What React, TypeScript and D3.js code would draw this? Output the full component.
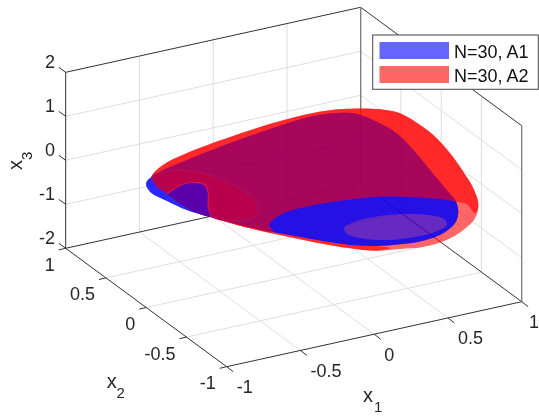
import React from "react";
import * as d3 from "d3";

type P = [number, number];

const x1Ticks = [-1, -0.5, 0, 0.5, 1];
const x2Ticks = [-1, -0.5, 0, 0.5, 1];
const x3Ticks = [-2, -1, 0, 1, 2];
const legendLabels = ["N=30, A1", "N=30, A2"];
const surfaceLevel = -0.5;

// Outlines as (x1, x2) at the level x3 = surfaceLevel
const a2Outline: P[] = [[-.512,.826],[-.37,.946],[-.159,1.034],[.179,1.118],[.502,1.177],[.782,1.193],[.967,1.159],[1.158,1.049],[1.234,.94],[1.254,.769],[1.253,.562],[1.211,.276],[1.149,-.001],[1.084,-.245],[.992,-.477],[.88,-.64],[.736,-.759],[.578,-.841],[.409,-.861],[.271,-.824],[.137,-.78],[.015,-.672],[-.119,-.504],[-.244,-.317],[-.365,-.126],[-.491,.14],[-.551,.32],[-.556,.542],[-.553,.709]];
const a1Outline: P[] = [[-.512,.826],[-.588,.757],[-.627,.637],[-.604,.472],[-.565,.294],[-.493,.136],[-.359,-.115],[-.232,-.295],[-.1,-.469],[.038,-.629],[.171,-.719],[.304,-.763],[.451,-.783],[.608,-.744],[.74,-.648],[.828,-.527],[.899,-.37],[.933,-.191],[.988,.117],[1.043,.424],[1.074,.689],[1.058,.867],[1.004,1.054],[.907,1.124],[.761,1.154],[.467,1.112],[.136,1.04],[-.209,.943],[-.405,.881]];
const a1Hole: P[] = [[.686,-.647],[.713,-.56],[.658,-.463],[.538,-.38],[.382,-.335],[.231,-.338],[.128,-.391],[.101,-.478],[.152,-.582],[.27,-.672],[.431,-.71],[.583,-.7]];
const a2Upper: P[] = [[-.512,.826],[-.37,.946],[-.159,1.034],[.179,1.118],[.502,1.177],[.782,1.193],[.967,1.159],[1.158,1.049],[1.234,.94],[1.254,.769],[1.253,.562],[1.211,.276],[1.149,-.001],[1.084,-.245],[.992,-.477],[.915,-.575],[.938,-.431],[.899,-.37],[.834,-.289],[.707,-.19],[.538,-.087],[.258,-.018],[.084,-.007],[-.085,-.026],[-.241,-.138],[-.267,-.237],[-.365,-.126],[-.491,.14],[-.551,.32],[-.556,.542],[-.553,.709]];
const a2Rim: P[] = [[-.491,.14],[-.365,-.126],[-.244,-.317],[-.119,-.504],[.015,-.672],[.137,-.78],[.226,-.783],[.171,-.719],[.038,-.629],[-.1,-.469],[-.232,-.295],[-.359,-.115]];
const crescent: P[] = [[-.512,.826],[-.393,.858],[-.299,.823],[-.206,.704],[-.145,.485],[-.129,.307],[-.168,.131],[-.236,.028],[-.323,-.008],[-.417,.027],[-.482,.135],[-.429,.275],[-.334,.449],[-.292,.566],[-.319,.62],[-.399,.641],[-.488,.601],[-.546,.565],[-.539,.673]];
const notch: P[] = [[-.546,.565],[-.488,.601],[-.399,.641],[-.319,.62],[-.292,.566],[-.334,.449],[-.429,.275],[-.482,.135],[-.551,.32],[-.555,.457]];
const notchEdge: P[] = [[-.546,.565],[-.488,.601],[-.399,.641],[-.319,.62],[-.292,.566],[-.334,.449],[-.429,.275],[-.482,.135]];

const BLUE = "#0000ff";
const RED = "#ff0000";
const INK = "#262626";

const ox = 226.7;
const oy = 366.7;
const x1X = d3.scaleLinear().domain([-1, 1]).range([0, 295]);
const x1Y = d3.scaleLinear().domain([-1, 1]).range([0, -65]);
const x2X = d3.scaleLinear().domain([-1, 1]).range([0, -161]);
const x2Y = d3.scaleLinear().domain([-1, 1]).range([0, -118.4]);
const x3Y = d3.scaleLinear().domain([-2, 2]).range([0, -176]);

const project = (a: number, b: number, c: number): P => [ox + x1X(a) + x2X(b), oy + x1Y(a) + x2Y(b) + x3Y(c)];
const onSurface = (p: P) => project(p[0], p[1], surfaceLevel);

const closed = d3.line<P>().x((p) => onSurface(p)[0]).y((p) => onSurface(p)[1]).curve(d3.curveCatmullRomClosed.alpha(0.5));
const open = d3.line<P>().x((p) => onSurface(p)[0]).y((p) => onSurface(p)[1]).curve(d3.curveCatmullRom.alpha(0.5));

const seg = (a: P, b: P) => `M${a[0]},${a[1]}L${b[0]},${b[1]}`;

const gridPath = [
  ...[-0.5, 0, 0.5].map((v) => seg(project(v, -1, -2), project(v, 1, -2))),
  ...[-0.5, 0, 0.5].map((v) => seg(project(-1, v, -2), project(1, v, -2))),
  ...[-0.5, 0, 0.5].map((v) => seg(project(v, 1, -2), project(v, 1, 2))),
  ...[-1, 0, 1].map((v) => seg(project(-1, 1, v), project(1, 1, v))),
  ...[-0.5, 0, 0.5].map((v) => seg(project(1, v, -2), project(1, v, 2))),
  ...[-1, 0, 1].map((v) => seg(project(1, -1, v), project(1, 1, v))),
].join("");

const boxPath = [
  seg(project(-1, 1, -2), project(-1, -1, -2)),
  seg(project(-1, -1, -2), project(1, -1, -2)),
  seg(project(-1, 1, -2), project(1, 1, -2)),
  seg(project(1, 1, -2), project(1, -1, -2)),
  seg(project(-1, 1, 2), project(1, 1, 2)),
  seg(project(1, 1, 2), project(1, -1, 2)),
  seg(project(-1, 1, -2), project(-1, 1, 2)),
].join("");

const font = "'Liberation Sans', Arial, sans-serif";

export default function App() {
  return (
    <svg width={539} height={417} style={{ position: "absolute", left: 0, top: 0 }} fontFamily={font} fill={INK}>
      <defs>
        <filter id="soft" x="0" y="0" width="100%" height="100%">
          <feGaussianBlur stdDeviation={0.4} />
        </filter>
      </defs>
      <rect width={539} height={417} fill="#fff" />
      <g filter="url(#soft)">
        <path d={gridPath} stroke="#dedede" strokeWidth={1} fill="none" />
        <path d={boxPath} stroke="#333" strokeWidth={1} fill="none" />
        <path d={seg(project(1, 1, -2), project(1, 1, 2)) + seg(project(1, -1, -2), project(1, -1, 2))} stroke="#808080" strokeWidth={1.4} fill="none" />

        {x3Ticks.map((v) => {
          const [x, y] = project(-1, 1, v);
          return (
            <g key={`z${v}`}>
              <path d={seg([x, y], [x - 7, y - 5])} stroke="#333" fill="none" />
              <text x={x - 10.7} y={y - 4} textAnchor="end" fontSize={18}>{v}</text>
            </g>
          );
        })}
        {x2Ticks.map((v) => {
          const [x, y] = project(-1, v, -2);
          return (
            <g key={`y${v}`}>
              <path d={seg([x, y], [x - 7, y + 1.6])} stroke="#333" fill="none" />
              <text x={x - 11} y={y + 22.5} textAnchor="end" fontSize={18}>{v}</text>
            </g>
          );
        })}
        {x1Ticks.map((v) => {
          const [x, y] = project(v, -1, -2);
          return (
            <g key={`x${v}`}>
              <path d={seg([x, y], [x + 6.5, y + 5])} stroke="#333" fill="none" />
              <text x={Math.min(x + 10, 529)} y={y + 26.3} fontSize={18}>{v}</text>
            </g>
          );
        })}

        <text x={363} y={401.7} fontSize={20}>x</text>
        <text x={374} y={411.7} fontSize={15}>1</text>
        <text x={106.7} y={388} fontSize={20}>x</text>
        <text x={116.5} y={398} fontSize={15}>2</text>
        <text transform="translate(21.7,170) rotate(-90)" fontSize={20}>x</text>
        <text transform="translate(32,160) rotate(-90)" fontSize={15}>3</text>

        <path d={closed(a2Outline) ?? ""} fill={RED} fillOpacity={0.6} />
        <path d={closed(a1Outline) ?? ""} fill={BLUE} fillOpacity={0.6} />
        <path d={(closed(a1Outline) ?? "") + (closed(a1Hole) ?? "")} fill={BLUE} fillOpacity={0.6} fillRule="evenodd" />
        <path d={closed(a2Upper) ?? ""} fill={RED} fillOpacity={0.6} />
        <path d={closed(a2Rim) ?? ""} fill={RED} fillOpacity={0.6} />
        <path d={closed(crescent) ?? ""} fill="#b8064e" stroke="#a81868" strokeWidth={0.6} />
        <path d={closed(notch) ?? ""} fill="#5a06aa" />
        <path d={open(notchEdge) ?? ""} fill="none" stroke="#e8123c" strokeWidth={1.1} />

        <rect x={372.7} y={35} width={165.6} height={54.3} fill="#fff" stroke="#444" strokeWidth={1} />
        <rect x={379.5} y={42} width={69.5} height={17} fill={BLUE} fillOpacity={0.6} />
        <rect x={379.5} y={66} width={69.5} height={17} fill={RED} fillOpacity={0.6} />
        <text x={454} y={58} fontSize={18} fill="#111">{legendLabels[0]}</text>
        <text x={454} y={82} fontSize={18} fill="#111">{legendLabels[1]}</text>
      </g>
    </svg>
  );
}
